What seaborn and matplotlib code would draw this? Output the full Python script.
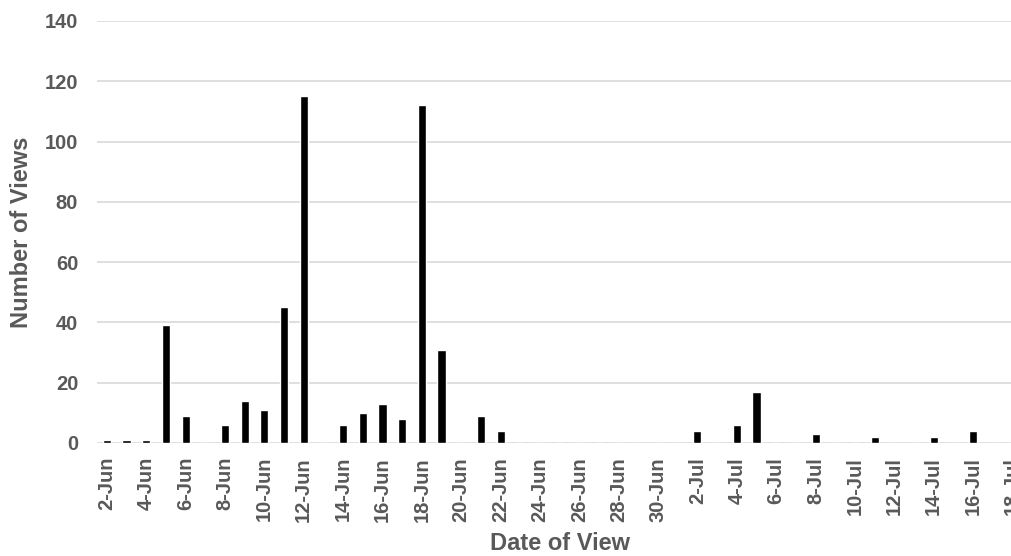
import matplotlib
matplotlib.use("Agg")
import matplotlib.pyplot as plt
import seaborn as sns
import pandas as pd

dates = ["2-Jun", "3-Jun", "4-Jun", "5-Jun", "6-Jun", "7-Jun", "8-Jun", "9-Jun",
         "10-Jun", "11-Jun", "12-Jun", "13-Jun", "14-Jun", "15-Jun", "16-Jun",
         "17-Jun", "18-Jun", "19-Jun", "20-Jun", "21-Jun", "22-Jun", "23-Jun",
         "24-Jun", "25-Jun", "26-Jun", "27-Jun", "28-Jun", "29-Jun", "30-Jun",
         "1-Jul", "2-Jul", "3-Jul", "4-Jul", "5-Jul", "6-Jul", "7-Jul", "8-Jul",
         "9-Jul", "10-Jul", "11-Jul", "12-Jul", "13-Jul", "14-Jul", "15-Jul",
         "16-Jul", "17-Jul", "18-Jul"]
views = [1, 1, 1, 39, 9, 0, 6, 14, 11, 45, 115, 0, 6, 10, 13, 8, 112, 31, 0, 9, 4,
         0, 0, 0, 0, 0, 0, 0, 0, 0, 4, 0, 6, 17, 0, 0, 3, 0, 0, 2, 0, 0, 2, 0, 4, 0, 0]
y_ticks = [0, 20, 40, 60, 80, 100, 120, 140]

sns.set_style("white")
plt.rcParams['font.family'] = ['Liberation Sans', 'DejaVu Sans']

df = pd.DataFrame({"date": dates, "views": views})

fig = plt.figure(figsize=(10.11, 5.56), dpi=100)
ax = fig.add_axes([97/1011, 1 - 443/556, 925.3/1011, 422/556])

sns.barplot(data=df, x="date", y="views", order=dates, color="black",
            width=0.41, ax=ax, zorder=3, saturation=1)

ax.set_xlim(-0.5, len(dates) - 0.5)
ax.set_ylim(0, 140)
ax.set_yticks(y_ticks)
ax.set_yticklabels([str(v) for v in y_ticks])
ax.yaxis.grid(True, color="#d9d9d9", linewidth=1.2, zorder=0)
ax.set_axisbelow(True)
for s in ax.spines.values():
    s.set_visible(False)

ax.set_xticks(range(0, len(dates), 2))
ax.set_xticklabels(dates[::2], rotation=90)
ax.tick_params(axis="x", length=0, pad=10, labelsize=14.5, labelcolor="#595959")
ax.tick_params(axis="y", length=0, pad=13.5, labelsize=14.5, labelcolor="#595959")
for lab in ax.get_xticklabels() + ax.get_yticklabels():
    lab.set_fontweight("bold")
ax.set_xlabel("")
ax.set_ylabel("")

fig.text(560/1011, 1 - 543/556, "Date of View", ha="center", va="center",
         fontsize=17, fontweight="bold", color="#595959")
fig.text(22/1011, 1 - 232/556, "Number of Views", ha="center", va="center",
         rotation=90, fontsize=17, fontweight="bold", color="#595959")

fig.savefig("out.png", dpi=100)
